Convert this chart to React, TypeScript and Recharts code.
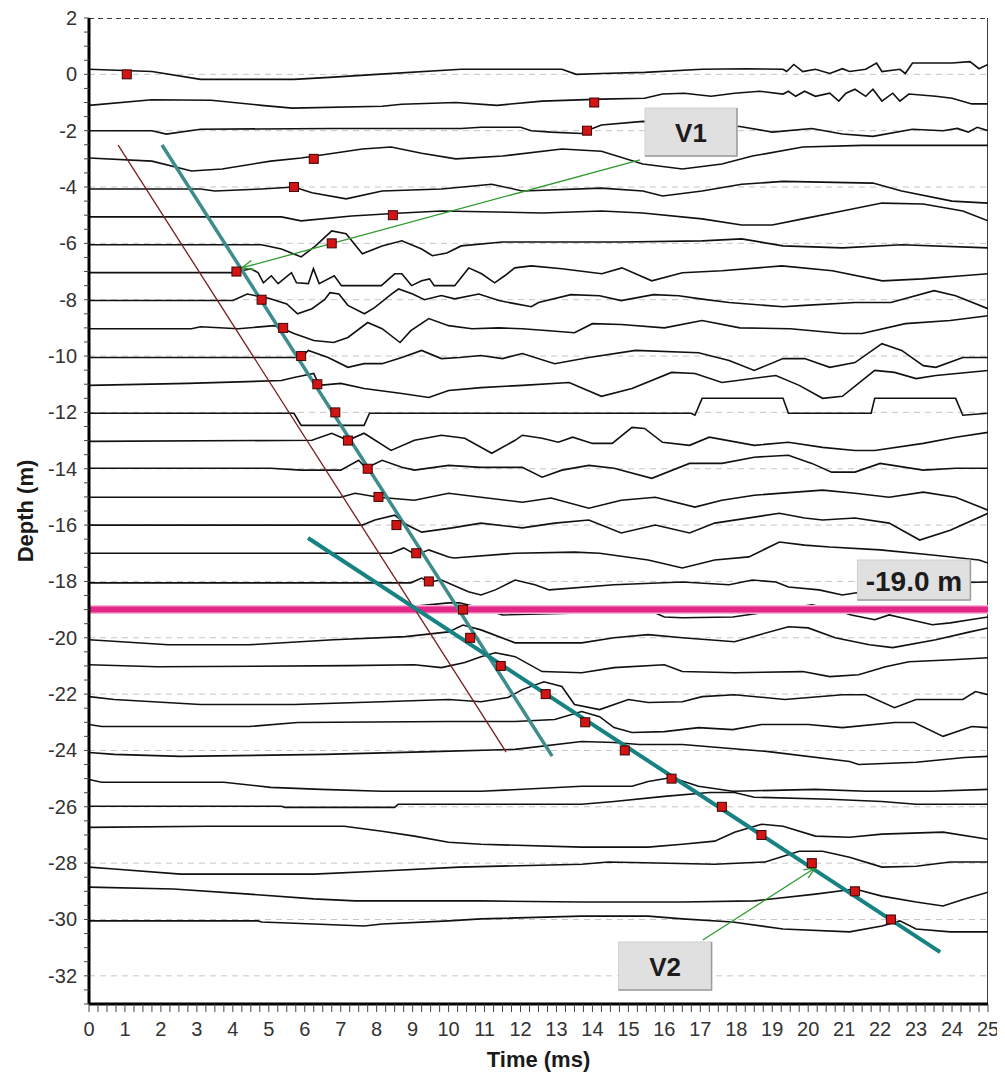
import React from "react";
import {
  ComposedChart,
  Line,
  Scatter,
  XAxis,
  YAxis,
  ReferenceLine,
  ReferenceDot,
  Label,
} from "recharts";

type Pt = [number, number];

const FONT = "'Liberation Sans', Arial, sans-serif";

// trace baselines (m) and per-trace deflection samples [time ms, deflection m]
const TRACE_DEPTHS = [
  0, -1, -2, -3, -4, -5, -6, -7, -8, -9, -10, -11, -12, -13, -14, -15, -16,
  -17, -18, -19, -20, -21, -22, -23, -24, -25, -26, -27, -28, -29, -30,
];

const TRACE_0: Pt[] = [[0,0.18],[1.75,0.1],[3.1,-0.18],[5.7,-0.18],[6.8,-0.1],[8,0],[10.35,0.18],[13.15,0.18],[13.55,0],[14.25,0.03],[15.45,0.07],[17.05,0.18],[18.3,0.2],[19.3,0.18],[19.4,0.1],[19.6,0.35],[19.85,0.1],[20.2,0.18],[20.6,0.03],[20.95,0.2],[21.15,0.1],[21.6,0.18],[21.9,0.4],[22.05,0.1],[22.55,0.18],[22.7,0.03],[22.9,0.4],[24,0.4],[24.5,0.45],[24.75,0.2],[25,0.35]];
const TRACE_1: Pt[] = [[0,-0.1],[1.75,0.1],[3.4,0.08],[4.8,-0.1],[5.65,-0.2],[8.15,-0.13],[8.7,-0.06],[10.2,0],[11.35,-0.1],[12.6,0.05],[14.25,0.12],[15.45,0.15],[15.95,0.3],[16.55,0.33],[17.3,0.22],[17.95,0.33],[18.65,0.4],[19.3,0.3],[19.45,0.4],[19.65,0.22],[19.9,0.4],[20.2,0.22],[20.6,0.33],[20.85,0.05],[21.05,0.33],[21.3,0.47],[21.6,0.22],[21.8,0.47],[22.05,0.05],[22.35,0.33],[22.55,0.05],[22.8,0.3],[23.55,0.22],[24,0.15],[24.55,-0.05],[25,-0.05]];
const TRACE_2: Pt[] = [[0,0],[1.75,0],[2.15,-0.12],[3.1,0.05],[6.8,0.08],[10.35,0.08],[10.9,0.12],[12,0.12],[12.3,0],[12.85,-0.05],[13.7,-0.1],[14,0.08],[14.25,0.2],[15.4,0.33],[18.1,0.15],[19,-0.05],[20.1,0.08],[20.95,-0.12],[21.8,-0.2],[22.9,0.05],[23.75,0],[24.15,0.08],[24.45,-0.05],[24.7,0.12],[25,0]];
const TRACE_3: Pt[] = [[0,0.03],[1.75,-0.08],[2.85,-0.43],[3.7,-0.36],[5.05,-0.08],[5.9,0.03],[6.8,0.2],[7.6,0.35],[8.4,0.42],[9.25,0.2],[10.2,0],[11.5,0.1],[13.15,0.35],[14.25,0.27],[15.4,-0.18],[16.5,-0.36],[17.6,-0.18],[18.45,0.1],[19.85,0.42],[21.5,0.48],[25,0.48]];
const TRACE_4: Pt[] = [[0,-0.07],[3.1,-0.07],[3.5,-0.14],[4.8,-0.07],[5.7,0],[6.2,-0.2],[7.15,-0.42],[8.15,-0.14],[9.8,-0.07],[11.2,0.1],[12.05,-0.14],[14.25,-0.04],[15.4,-0.14],[15.95,-0.32],[17.05,-0.14],[18.15,0.1],[19.3,0.2],[21.8,0.14],[22.6,-0.14],[24,-0.5],[25,-0.57]];
const TRACE_5: Pt[] = [[0,-0.06],[5.35,-0.06],[5.9,-0.2],[7.3,-0.03],[8.7,0.08],[9.8,0.15],[12.6,0.08],[14.25,0.15],[15.4,0.08],[17.05,-0.13],[18.15,-0.35],[19,-0.35],[19.85,-0.13],[20.95,0.15],[22.05,0.43],[23.2,0.4],[24.3,0.15],[25,-0.2]];
const TRACE_6: Pt[] = [[0,-0.05],[4.8,-0.05],[5.35,-0.2],[5.9,-0.48],[6.3,-0.09],[6.75,0.44],[7.15,0.34],[7.6,-0.37],[8.15,-0.09],[8.7,0.09],[9.25,-0.2],[9.55,-0.44],[9.95,-0.34],[10.35,-0.09],[11.5,0.05],[14.8,0.05],[17.05,0.09],[18.15,0.16],[19.3,-0.09],[20.95,-0.16],[22.6,-0.05],[25,-0.16]];
const TRACE_7: Pt[] = [[0,-0.04],[4,-0.04],[4.5,0.1],[4.7,-0.04],[4.85,-0.4],[5.07,-0.15],[5.26,-0.43],[5.63,-0.04],[5.77,-0.4],[6.1,-0.43],[6.24,0.1],[6.4,-0.43],[6.82,-0.15],[7.02,-0.5],[8.13,-0.5],[8.5,-0.08],[8.7,-0.08],[8.97,-0.5],[9.25,-0.33],[9.47,-0.26],[9.6,-0.5],[10.17,-0.5],[10.56,0.13],[10.92,-0.08],[11.28,-0.4],[11.56,-0.15],[11.84,0.13],[12.3,0.2],[13.15,0.1],[14.26,-0.08],[14.82,0.13],[15.65,-0.33],[16.5,-0.04],[17.6,0.03],[19.27,0.2],[20.67,0.03],[22.06,-0.33],[23.18,-0.26],[24.29,-0.15],[25,-0.08]];
const TRACE_8: Pt[] = [[0,-0.03],[4,-0.03],[4.4,0.2],[5,0.05],[5.5,-0.15],[5.8,-0.5],[6.2,-0.32],[6.55,0],[6.7,0.25],[6.95,0.2],[7.2,-0.2],[7.66,-0.5],[7.94,-0.28],[8.41,0.2],[8.61,0.38],[9,0.2],[9.33,0],[9.8,0.15],[10.17,0.03],[10.84,0.2],[11.4,-0.03],[11.84,-0.14],[12.3,-0.25],[12.5,-0.1],[13.4,0.18],[14.2,0.14],[14.8,-0.03],[15.7,0.18],[16.4,0.14],[17,0.03],[17.8,-0.1],[19.3,-0.25],[19.9,-0.2],[21.3,-0.1],[22.3,-0.1],[23.5,0.32],[24.1,0.14],[25,-0.32]];
const TRACE_9: Pt[] = [[0,-0.03],[2.85,-0.03],[3.1,0.04],[4.15,-0.03],[5.15,0.08],[5.4,-0.03],[5.7,-0.2],[6.25,-0.45],[6.8,-0.52],[7.2,-0.34],[7.75,0.19],[8.15,-0.03],[8.65,-0.52],[8.95,-0.1],[9.45,0.33],[10,0.08],[10.65,-0.03],[11.4,0],[12.05,-0.03],[12.8,-0.1],[13.5,-0.17],[14,0.15],[14.8,0.12],[16,0],[17.05,0.26],[18.1,0],[19.5,-0.03],[20.95,-0.2],[21.5,-0.2],[22.7,0.15],[23.95,0.26],[25,0.43]];
const TRACE_10: Pt[] = [[0,-0.05],[5.9,-0.05],[6.1,0.2],[6.65,-0.05],[7.2,-0.4],[7.65,-0.27],[8.15,-0.27],[8.7,-0.05],[9.25,0.2],[9.8,-0.09],[10.3,-0.05],[10.9,0.02],[11.5,-0.09],[12.05,0.09],[12.95,-0.27],[13.9,-0.05],[15.2,0.2],[16.95,0.12],[17.8,-0.16],[18.5,-0.51],[19.3,-0.09],[19.9,-0.09],[20.6,-0.4],[21.3,-0.23],[22.05,0.44],[22.6,0.2],[23.2,-0.34],[23.55,-0.4],[24.3,-0.05],[25,-0.05]];
const TRACE_11: Pt[] = [[0,-0.04],[2.75,0.03],[5.35,0.13],[5.7,0.24],[6.25,0.38],[6.4,-0.04],[7,0.03],[7.65,-0.15],[8.7,-0.33],[9.45,-0.47],[10,-0.22],[10.9,-0.12],[12.05,-0.04],[13.35,0.06],[14.25,-0.43],[15.1,-0.15],[16.2,0.42],[16.85,0.38],[17.6,0.06],[19.1,0.31],[19.75,-0.04],[20.4,-0.5],[20.95,-0.43],[21.85,0.49],[22.4,0.42],[23,0.2],[23.55,0.31],[25,0.49]];
const TRACE_12: Pt[] = [[0,-0.03],[5.7,-0.03],[5.9,-0.46],[7.65,-0.46],[7.8,-0.03],[16.75,-0.03],[16.85,-0.1],[17.05,0.5],[19.3,0.5],[19.45,-0.03],[21.75,-0.03],[21.85,0.5],[24.1,0.5],[24.3,-0.1],[25,-0.03]];
const TRACE_13: Pt[] = [[0,-0.03],[6.2,0.01],[6.75,0.26],[7.2,0.01],[7.65,0.26],[8.4,-0.35],[9.05,0.01],[9.8,0.19],[10.45,0.08],[11.2,-0.45],[11.85,0.01],[12.05,0.19],[12.6,0.08],[13.05,-0.06],[13.45,0.12],[14,-0.1],[14.55,-0.1],[15.1,0.47],[15.45,0.43],[15.95,-0.06],[16.7,-0.17],[17.25,0.12],[18.5,-0.17],[19.45,-0.06],[20.4,-0.24],[21.3,-0.35],[21.85,-0.35],[23.2,-0.1],[24.1,0.12],[25,0.29]];
const TRACE_14: Pt[] = [[0,0.02],[5.05,0.02],[5.9,-0.05],[7,-0.05],[7.5,0.3],[7.7,0.02],[8.15,0.3],[8.7,0.05],[9.05,-0.05],[10,0.12],[10.9,0.05],[12.05,0.05],[12.6,-0.3],[13.15,-0.05],[13.9,0.12],[14.6,0.02],[15.65,-0.34],[16.7,0.19],[17.6,0.19],[18.5,0.41],[19.45,0.48],[20.1,0.19],[20.65,-0.12],[21.3,-0.12],[22,0.19],[23.2,-0.05],[24.1,0.02],[25,0.02]];
const TRACE_15: Pt[] = [[0,-0.01],[7,-0.01],[7.4,0.13],[8.05,-0.01],[9.05,-0.12],[10,0.13],[10.9,-0.01],[12.05,-0.19],[12.85,-0.04],[13.9,-0.4],[14.8,-0.12],[15.75,-0.01],[16.85,-0.36],[17.6,-0.12],[18.5,0.06],[20.4,0.24],[21.3,0.13],[22.25,-0.01],[23.2,0.17],[24.1,-0.01],[25,-0.47]];
const TRACE_16: Pt[] = [[0,0],[7.6,0],[7.95,0.18],[8.5,0.35],[8.85,0],[9.25,-0.25],[10.1,-0.1],[10.9,0.07],[12.05,-0.1],[12.95,0.07],[13.9,0.18],[14.8,-0.28],[15.75,0],[16.7,-0.28],[17.4,0.07],[19.2,0.42],[19.9,0.25],[20.4,0.18],[21.3,0.25],[22.25,0.07],[23.1,-0.53],[23.95,-0.18],[25,0.42]];
const TRACE_17: Pt[] = [[0,0],[8.4,0],[8.75,0.19],[9.1,-0.06],[9.45,0.12],[10,-0.13],[10.15,-0.17],[11.85,0],[13.5,0.04],[14.2,0],[15.55,-0.24],[16.5,-0.52],[17.4,-0.24],[18.35,-0.13],[19.2,0.4],[19.9,0.29],[20.6,0.22],[22,0.12],[23.45,-0.06],[24.75,-0.24],[25,-0.35]];
const TRACE_18: Pt[] = [[0,-0.05],[8.95,-0.05],[9.25,0.12],[9.45,-0.02],[9.8,0.05],[10.55,-0.37],[10.9,-0.48],[11.3,-0.3],[11.85,0.05],[12.4,-0.12],[12.8,-0.3],[14.6,-0.12],[16.5,-0.02],[17.8,-0.12],[18.45,0.05],[19.1,-0.02],[19.45,-0.2],[20.3,-0.3],[20.95,-0.48],[21.3,-0.41],[22.6,-0.23],[23.75,-0.05],[25,-0.02]];
const TRACE_19: Pt[] = [[0,-0.01],[2.35,-0.12],[3.75,-0.12],[3.95,-0.01],[8.9,0.1],[10,0.24],[10.3,0.24],[10.9,0.06],[11.5,-0.19],[13.7,-0.12],[15.55,-0.01],[16,-0.26],[16.5,-0.29],[17.9,-0.26],[18.9,-0.08],[20.1,0.17],[20.75,-0.01],[21.2,-0.19],[21.85,-0.36],[22.25,-0.19],[22.6,-0.29],[23.45,-0.54],[23.95,-0.47],[24.5,-0.36],[25,-0.26]];
const TRACE_20: Pt[] = [[0,-0.07],[0.9,-0.14],[2.2,-0.25],[4.45,-0.25],[6.8,-0.07],[8.8,0.04],[10,0.21],[10.4,0.45],[10.9,0.28],[11.85,-0.18],[13.7,-0.18],[14.6,0],[15.55,0.11],[16.5,0],[17.95,-0.14],[18.65,0.11],[19.45,0.39],[20,0.35],[20.75,0],[21.7,-0.25],[22.35,-0.35],[23.55,-0.07],[24.5,0.21],[25,0.35]];
const TRACE_21: Pt[] = [[0,0.04],[1.9,-0.03],[7.2,0.01],[9.05,0.04],[9.8,-0.06],[10.45,0.12],[10.9,0.33],[11.3,0.47],[11.85,0.33],[12.6,-0.2],[13.7,-0.24],[14.6,-0.06],[16,0.04],[16.5,-0.2],[17.95,-0.24],[19.85,-0.2],[20.6,-0.38],[21.4,-0.31],[22.15,-0.03],[22.8,0.15],[24,0.22],[25,0.29]];
const TRACE_22: Pt[] = [[0,-0.09],[0.7,-0.19],[3.1,-0.37],[5.7,-0.37],[8.15,-0.27],[10,-0.19],[10.9,-0.27],[11.65,-0.12],[12.05,0.16],[12.65,0.44],[13.15,0.27],[13.5,-0.37],[14.2,-0.55],[15,-0.19],[15.55,-0.3],[16.5,-0.27],[17.05,-0.09],[17.95,-0.02],[19.35,-0.19],[20.95,-0.02],[21.6,-0.02],[22.4,-0.48],[23,-0.19],[24.3,-0.19],[24.65,0.09],[25,-0.02]];
const TRACE_23: Pt[] = [[0,-0.08],[0.35,-0.15],[4.45,-0.15],[5.8,-0.01],[10,0.03],[11.85,0.03],[12.95,0.1],[13.7,0.38],[14.2,0.2],[14.6,-0.19],[15.1,-0.36],[16,-0.33],[16.95,-0.19],[17.9,-0.26],[18.7,-0.08],[20,-0.08],[20.95,-0.19],[22.4,-0.01],[22.95,-0.01],[23.75,-0.5],[24.55,-0.15],[25,-0.19]];
const TRACE_24: Pt[] = [[0,-0.07],[0.7,-0.14],[2.55,-0.21],[6.55,-0.14],[9.55,-0.04],[11.85,0.04],[13.7,0.32],[14.6,0.28],[15.3,0.21],[16.5,0.21],[18.9,-0.04],[21.15,-0.39],[21.4,-0.5],[23,-0.42],[24.35,-0.25],[25,-0.21]];
const TRACE_25: Pt[] = [[0,-0.03],[0.35,-0.13],[3.75,-0.13],[5.05,-0.31],[6.45,-0.38],[8.15,-0.45],[10.9,-0.45],[13.7,-0.27],[15.1,-0.27],[15.55,-0.1],[16.2,0.04],[16.95,-0.27],[17.9,-0.45],[20.2,-0.38],[21.6,-0.45],[23.45,-0.45],[25,-0.38]];
const TRACE_26: Pt[] = [[0,0.02],[5.35,0.02],[5.45,-0.02],[8.5,-0.02],[8.6,0.09],[13.7,0.09],[14.6,0.19],[16,0.37],[17.25,0.51],[17.95,0.51],[18.5,0.34],[20.6,0.27],[22.05,0.19],[23,0.09],[25,0.09]];
const TRACE_27: Pt[] = [[0,0.27],[3.3,0.31],[7.1,0.31],[8.15,0.13],[9.05,-0.04],[10,-0.26],[10.9,-0.33],[13.7,-0.43],[15.55,-0.43],[16.5,-0.33],[17.4,-0.22],[17.95,0.1],[18.7,0.38],[19.3,0.31],[20.2,-0.04],[21.15,-0.08],[22.05,0.03],[23.75,0.1],[25,-0.15]];
const TRACE_28: Pt[] = [[0,-0.14],[0.7,-0.21],[2.55,-0.39],[6.25,-0.39],[8.15,-0.28],[10.3,-0.14],[13.7,-0.04],[14.45,0.04],[17.4,-0.04],[18.8,0.04],[19.75,0.42],[20.4,0.42],[21.15,0.21],[22.05,-0.14],[23,-0.11],[23.95,0.04],[25,0.04]];
const TRACE_29: Pt[] = [[0,0.15],[2.35,0.08],[4.45,-0.1],[6.25,-0.27],[7.4,-0.34],[10.9,-0.34],[13.7,-0.38],[16.5,-0.38],[18.5,-0.34],[20.2,-0.1],[21.3,0.08],[22.05,-0.17],[23,-0.38],[23.75,-0.52],[24.35,-0.27],[25,-0.03]];
const TRACE_30: Pt[] = [[0,-0.05],[4.7,-0.05],[4.8,-0.09],[6.25,-0.16],[7.65,-0.23],[8.15,-0.16],[10,-0.05],[10.9,0.02],[13.7,0.12],[15.55,0.12],[16.5,0.02],[17.9,-0.09],[19.3,-0.34],[21.15,-0.44],[22.05,-0.23],[22.55,-0.05],[23,-0.34],[23.95,-0.44],[25,-0.44]];

const TRACES = [
  TRACE_0, TRACE_1, TRACE_2, TRACE_3, TRACE_4, TRACE_5, TRACE_6, TRACE_7,
  TRACE_8, TRACE_9, TRACE_10, TRACE_11, TRACE_12, TRACE_13, TRACE_14,
  TRACE_15, TRACE_16, TRACE_17, TRACE_18, TRACE_19, TRACE_20, TRACE_21,
  TRACE_22, TRACE_23, TRACE_24, TRACE_25, TRACE_26, TRACE_27, TRACE_28,
  TRACE_29, TRACE_30,
];

// first-break picks (ms), one per trace depth
const PICK_TIMES = [
  1.05, 14.05, 13.85, 6.25, 5.7, 8.45, 6.75, 4.1, 4.8, 5.4, 5.9, 6.35, 6.85,
  7.2, 7.75, 8.05, 8.55, 9.1, 9.45, 10.4, 10.6, 11.45, 12.7, 13.8, 14.9, 16.2,
  17.6, 18.7, 20.1, 21.3, 22.3,
];

// fitted velocity lines [time, depth]
const FIT_REF: Pt[] = [[0.81, -2.51], [11.6, -24.06]];
const FIT_V1: Pt[] = [[2.03, -2.51], [12.88, -24.2]];
const FIT_V2: Pt[] = [[6.09, -16.46], [23.67, -31.16]];
const INTERFACE_DEPTH = -19;

// annotation arrows [from, to]
const ARROW_V1: Pt[] = [[15.32, -3.04], [4.25, -6.87]];
const ARROW_V2: Pt[] = [[17.07, -30.73], [20.19, -28.17]];

const X_LABELS = Array.from({ length: 26 }, (_, i) => i);
const Y_LABELS = [2, 0, -2, -4, -6, -8, -10, -12, -14, -16, -18, -20, -22, -24, -26, -28, -30, -32];
const X_TICKS = Array.from({ length: 101 }, (_, i) => i / 4);
const Y_TICKS = Array.from({ length: 71 }, (_, i) => 2 - i / 2);

const traceData = TRACES.map((pts, i) =>
  pts.map(([t, a]) => ({ t, v: TRACE_DEPTHS[i] + a }))
);
const pickData = PICK_TIMES.map((t, i) => ({ t, v: TRACE_DEPTHS[i] }));
const seg = (pts: Pt[]) => pts.map(([t, v]) => ({ t, v }));
const hline = (v: number) => [{ t: 0, v }, { t: 25, v }];

const XTick = ({ x, y, payload }: any) =>
  X_LABELS.includes(payload.value) ? (
    <text x={x} y={y + 15} textAnchor="middle" dominantBaseline="central"
      fontSize={20} fill="#333" fontFamily={FONT}>{payload.value}</text>
  ) : <g />;

const YTick = ({ x, y, payload }: any) =>
  Y_LABELS.includes(payload.value) ? (
    <text x={x} y={y} textAnchor="end" dominantBaseline="central"
      fontSize={20} fill="#333" fontFamily={FONT}>{payload.value}</text>
  ) : <g />;

const PickSquare = (p: any) => (
  <rect x={p.cx - 4.5} y={p.cy - 4.5} width={9} height={9}
    fill="#d21414" stroke="#3b0505" strokeWidth={1} />
);

const Arrow = (p: any) => {
  const { x1, y1, x2, y2 } = p;
  const ang = Math.atan2(y2 - y1, x2 - x1);
  const len = 12;
  const a1 = ang + Math.PI - 0.4;
  const a2 = ang + Math.PI + 0.4;
  return (
    <g>
      <line x1={x1} y1={y1} x2={x2} y2={y2} stroke="#2f9a2f" strokeWidth={1.3} />
      <polyline
        points={`${x2 + len * Math.cos(a1)},${y2 + len * Math.sin(a1)} ${x2},${y2} ${x2 + len * Math.cos(a2)},${y2 + len * Math.sin(a2)}`}
        fill="none" stroke="#2f9a2f" strokeWidth={1.3} />
    </g>
  );
};

const makeBox = (text: string, w: number, h: number, size: number) => (p: any) => {
  const x = p.cx - w / 2;
  const y = p.cy - h / 2;
  return (
    <g>
      <rect x={x} y={y} width={w} height={h} fill="#e0e0e0" stroke="#d0d0d0" />
      <path d={`M${x + w},${y} V${y + h} H${x}`} stroke="#9c9c9c" strokeWidth={1.5} fill="none" />
      <text x={p.cx} y={p.cy + 1} textAnchor="middle" dominantBaseline="central"
        fontSize={size} fontWeight="bold" fill="#1c1c1c" fontFamily={FONT}>{text}</text>
    </g>
  );
};

const App = () => {
  return (
    <ComposedChart
      width={997}
      height={1070}
      margin={{ top: 10, right: 17, bottom: 0, left: 9 }}
      style={{ fontFamily: FONT }}
    >
      <XAxis
        type="number"
        dataKey="t"
        domain={[0, 25]}
        ticks={X_TICKS}
        interval={0}
        height={74}
        tickSize={8}
        tickMargin={2}
        tick={XTick}
        tickLine={{ stroke: "#444" }}
        axisLine={{ stroke: "#000", strokeWidth: 3 }}
        allowDataOverflow
      >
        <Label
          content={(p: any) => {
            const vb = p.viewBox;
            return (
              <text x={vb.x + vb.width / 2} y={vb.y + 55} textAnchor="middle"
                dominantBaseline="central" fontSize={22} fontWeight="bold"
                fill="#1a1a1a" fontFamily={FONT}>Time (ms)</text>
            );
          }}
        />
      </XAxis>
      <YAxis
        type="number"
        dataKey="v"
        domain={[-33, 2]}
        ticks={Y_TICKS}
        interval={0}
        width={72}
        tickSize={5}
        tickMargin={7}
        tick={YTick}
        tickLine={{ stroke: "#444" }}
        axisLine={{ stroke: "#000", strokeWidth: 3 }}
        allowDataOverflow
      >
        <Label
          content={(p: any) => {
            const vb = p.viewBox;
            const cx = vb.x + 8;
            const cy = vb.y + vb.height / 2;
            return (
              <text x={cx} y={cy} transform={`rotate(-90, ${cx}, ${cy})`}
                textAnchor="middle" dominantBaseline="central" fontSize={22}
                fontWeight="bold" fill="#1a1a1a" fontFamily={FONT}>Depth (m)</text>
            );
          }}
        />
      </YAxis>

      {Y_LABELS.slice(1).map((d) => (
        <Line key={`grid${d}`} data={hline(d)} dataKey="v" stroke="#c6c6c6"
          strokeWidth={1} strokeDasharray="6 5" dot={false} activeDot={false}
          isAnimationActive={false} />
      ))}
      <Line data={hline(2)} dataKey="v" stroke="#000" strokeWidth={1.5}
        strokeDasharray="5 4" dot={false} activeDot={false} isAnimationActive={false} />
      <Line data={[{ t: 25, v: 2 }, { t: 25, v: -33 }]} dataKey="v" stroke="#000"
        strokeWidth={1.5} dot={false} activeDot={false} isAnimationActive={false} />

      {traceData.map((d, i) => (
        <Line key={`tr${i}`} data={d} dataKey="v" type="linear" stroke="#111"
          strokeWidth={1.6} dot={false} activeDot={false} isAnimationActive={false} />
      ))}

      <Scatter data={pickData} dataKey="v" shape={PickSquare} isAnimationActive={false} />

      <Line data={hline(INTERFACE_DEPTH)} dataKey="v" stroke="#f4b3d4" strokeWidth={9}
        dot={false} activeDot={false} isAnimationActive={false} />
      <Line data={hline(INTERFACE_DEPTH)} dataKey="v" stroke="#e0177f" strokeWidth={6}
        strokeOpacity={0.9} dot={false} activeDot={false} isAnimationActive={false} />

      <Line data={seg(FIT_REF)} dataKey="v" stroke="#7a1c1c" strokeWidth={1.3}
        dot={false} activeDot={false} isAnimationActive={false} />
      <Line data={seg(FIT_V1)} dataKey="v" stroke="#3f8c8c" strokeWidth={3.5}
        dot={false} activeDot={false} isAnimationActive={false} />
      <Line data={seg(FIT_V2)} dataKey="v" stroke="#178282" strokeWidth={4}
        dot={false} activeDot={false} isAnimationActive={false} />

      <ReferenceLine
        segment={[{ x: ARROW_V1[0][0], y: ARROW_V1[0][1] }, { x: ARROW_V1[1][0], y: ARROW_V1[1][1] }]}
        shape={Arrow} ifOverflow="visible" />
      <ReferenceLine
        segment={[{ x: ARROW_V2[0][0], y: ARROW_V2[0][1] }, { x: ARROW_V2[1][0], y: ARROW_V2[1][1] }]}
        shape={Arrow} ifOverflow="visible" />

      <ReferenceDot x={16.74} y={-2.05} r={1} ifOverflow="visible" shape={makeBox("V1", 92, 48, 26)} />
      <ReferenceDot x={16.02} y={-31.65} r={1} ifOverflow="visible" shape={makeBox("V2", 93, 48, 26)} />
      <ReferenceDot x={22.94} y={-17.95} r={1} ifOverflow="visible" shape={makeBox("-19.0 m", 113, 40, 28)} />
    </ComposedChart>
  );
};

export default App;
